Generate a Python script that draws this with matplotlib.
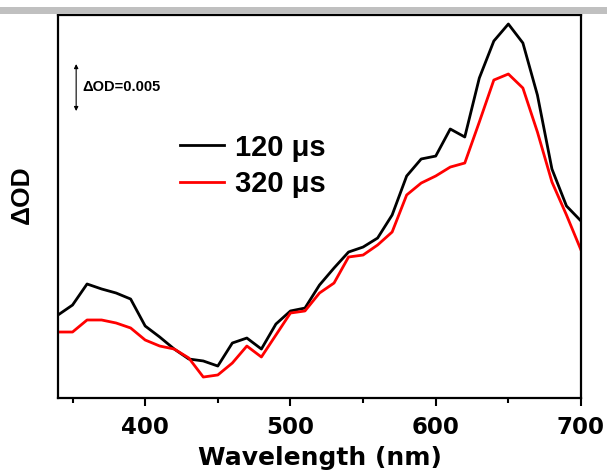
import matplotlib
matplotlib.use("Agg")
import matplotlib.pyplot as plt
from matplotlib.patches import Rectangle
from matplotlib.ticker import MultipleLocator

plt.rcParams["font.family"] = ["Liberation Sans", "DejaVu Sans"]
plt.rcParams["font.weight"] = "bold"

wavelength = list(range(340, 701, 10))

od_120us = [0.00883, 0.00989, 0.01213, 0.01160, 0.01117, 0.01053, 0.00766, 0.00649,
            0.00521, 0.00415, 0.00394, 0.00340, 0.00585, 0.00638, 0.00521, 0.00787,
            0.00926, 0.00957, 0.01202, 0.01383, 0.01553, 0.01606, 0.01702, 0.01947,
            0.02362, 0.02543, 0.02574, 0.02862, 0.02777, 0.03404, 0.03798, 0.03979,
            0.03777, 0.03223, 0.02436, 0.02043, 0.01883]

od_320us = [0.00702, 0.00702, 0.00830, 0.00830, 0.00798, 0.00745, 0.00617, 0.00553,
            0.00521, 0.00426, 0.00223, 0.00245, 0.00372, 0.00553, 0.00436, 0.00670,
            0.00904, 0.00926, 0.01117, 0.01223, 0.01500, 0.01521, 0.01628, 0.01766,
            0.02160, 0.02287, 0.02362, 0.02457, 0.02500, 0.02936, 0.03383, 0.03447,
            0.03298, 0.02830, 0.02298, 0.01947, 0.01574]

labels = ["120 μs", "320 μs"]
colors = ["black", "#ff0000"]

fig = plt.figure(figsize=(6.07, 4.75), dpi=100)
# gray strip across the top of the picture
fig.patches.append(Rectangle((0, 1 - 14 / 475), 1, 7 / 475, transform=fig.transFigure,
                             facecolor="#c0c0c0", edgecolor="none"))
ax = fig.add_axes([58 / 607, 77 / 475, 523 / 607, 383.3 / 475])

ax.plot(wavelength, od_120us, color=colors[0], lw=2.0, label=labels[0])
ax.plot(wavelength, od_320us, color=colors[1], lw=2.0, label=labels[1])

ax.set_xlim(340, 700)
ax.set_ylim(0, 0.04078)
ax.xaxis.set_major_locator(MultipleLocator(100))
ax.xaxis.set_minor_locator(MultipleLocator(50))
ax.set_yticks([])
ax.tick_params(axis="x", which="major", direction="out", length=6, width=1.5, pad=7)
ax.tick_params(axis="x", which="minor", direction="out", length=3.5, width=1.5)
for lab in ax.get_xticklabels():
    lab.set_fontfamily("DejaVu Sans")
    lab.set_fontsize(16.5)
    lab.set_fontweight("bold")
for s in ax.spines.values():
    s.set_linewidth(1.6)

ax.set_xlabel("Wavelength (nm)", fontsize=18, fontweight="bold",
              fontfamily="DejaVu Sans", labelpad=5)
ax.set_ylabel("ΔOD", fontsize=19, fontweight="bold")
ax.yaxis.set_label_coords(-0.047, 0.53)

# scale bar
ax.annotate("", xy=(352.5, 0.03553), xytext=(352.5, 0.03053),
            arrowprops=dict(arrowstyle="<|-|>", color="black", lw=0.8,
                            mutation_scale=6, shrinkA=0, shrinkB=0))
ax.text(357, 0.03313, "ΔOD=0.005", fontsize=10.5, fontweight="bold", va="center")

ax.legend(loc="upper left", bbox_to_anchor=(0.2333, 0.69), frameon=False,
          borderpad=0, borderaxespad=0, handlelength=1.5, handletextpad=0.38,
          labelspacing=0.3, prop={"weight": "bold", "size": 21})

fig.savefig("out.png", dpi=100)
